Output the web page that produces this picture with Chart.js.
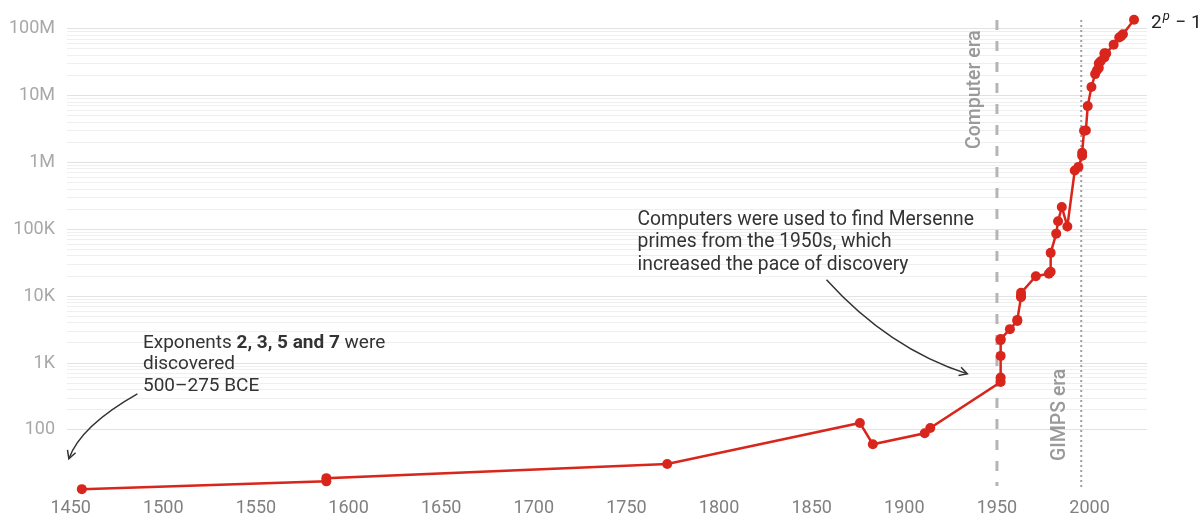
<!DOCTYPE html>
<html>
<head>
<meta charset="utf-8">
<script src="https://cdn.jsdelivr.net/npm/chart.js@4/dist/chart.umd.min.js"></script>
<style>
  html, body { margin: 0; padding: 0; background: #fff; }
  #wrap { width: 1204px; height: 514px; }
</style>
</head>
<body>
<div id="wrap"><canvas id="chart"></canvas></div>
<script>
// ── Data ───────────────────────────────────────────────────────────────────

// discovery year of each Mersenne prime exponent (in order of discovery)
const years = [
  1456, 1588, 1588, 1772, 1876, 1883, 1911, 1914,
  1952, 1952, 1952, 1952, 1952, 1957, 1961, 1961,
  1963, 1963, 1963, 1971, 1978, 1979, 1979, 1982,
  1983, 1985, 1988, 1992, 1994, 1996, 1996, 1997,
  1998, 1999, 2001, 2003, 2004, 2005, 2005, 2006,
  2008, 2008, 2009, 2013, 2016, 2017, 2018, 2024
];
const exponents = [
  13, 17, 19, 31, 127, 61, 89, 107,
  521, 607, 1279, 2203, 2281, 3217, 4253, 4423,
  9689, 9941, 11213, 19937, 21701, 23209, 44497, 86243,
  132049, 216091, 110503, 756839, 859433, 1257787, 1398269, 2976221,
  3021377, 6972593, 13466917, 20996011, 24036583, 25964951, 30402457, 32582657,
  43112609, 37156667, 42643801, 57885161, 74207281, 77232917, 82589933, 136279841
];

const xTickValues = [1450, 1500, 1550, 1600, 1650, 1700, 1750, 1800, 1850, 1900, 1950, 2000];
const yTickValues = [100, 1e3, 1e4, 1e5, 1e6, 1e7, 1e8];
const yTickLabels = ['100', '1K', '10K', '100K', '1M', '10M', '100M'];

const computerEra = 1950;
const gimpsEra = 1995.5;

const RED = '#d9261c';
const FONT = 'Roboto, "Noto Sans", sans-serif';

// ── Annotations ────────────────────────────────────────────────────────────

function arrow(ctx, x0, y0, cx, cy, x1, y1) {
  ctx.beginPath();
  ctx.moveTo(x0, y0);
  ctx.quadraticCurveTo(cx, cy, x1, y1);
  ctx.stroke();
  const a = Math.atan2(y1 - cy, x1 - cx);
  const len = 9;
  ctx.beginPath();
  ctx.moveTo(x1 - len * Math.cos(a - 0.5), y1 - len * Math.sin(a - 0.5));
  ctx.lineTo(x1, y1);
  ctx.lineTo(x1 - len * Math.cos(a + 0.5), y1 - len * Math.sin(a + 0.5));
  ctx.stroke();
}

const annotations = {
  id: 'annotations',
  beforeDatasetsDraw(chart) {
    const { ctx, chartArea, scales: { x } } = chart;
    const xc = x.getPixelForValue(computerEra);
    const xg = x.getPixelForValue(gimpsEra);
    ctx.save();
    ctx.strokeStyle = '#b5b5b5';
    ctx.lineWidth = 3;
    ctx.setLineDash([10, 11]);
    ctx.beginPath();
    ctx.moveTo(xc, chartArea.top + 3);
    ctx.lineTo(xc, chartArea.bottom - 8);
    ctx.stroke();

    ctx.strokeStyle = '#a0a0a0';
    ctx.lineWidth = 2;
    ctx.setLineDash([2, 3]);
    ctx.beginPath();
    ctx.moveTo(xg, chartArea.top + 3);
    ctx.lineTo(xg, chartArea.bottom - 5);
    ctx.stroke();
    ctx.restore();
  },
  afterDatasetsDraw(chart) {
    const { ctx, scales: { x, y } } = chart;
    const px = (yr) => x.getPixelForValue(yr);
    const py = (v) => y.getPixelForValue(v);
    ctx.save();

    // era labels
    ctx.fillStyle = '#9a9a9a';
    ctx.font = `500 19.5px ${FONT}`;
    ctx.textAlign = 'center';
    ctx.textBaseline = 'middle';
    ctx.save();
    ctx.translate(px(computerEra) - 22, py(1.23e7));
    ctx.rotate(-Math.PI / 2);
    ctx.fillText('Computer era', 0, 0);
    ctx.restore();
    ctx.save();
    ctx.translate(px(gimpsEra) - 21, py(168));
    ctx.rotate(-Math.PI / 2);
    ctx.fillText('GIMPS era', 0, 0);
    ctx.restore();

    // series label
    ctx.fillStyle = '#222';
    ctx.textAlign = 'left';
    ctx.textBaseline = 'alphabetic';
    const lx = px(2024) + 17, ly = py(1.36e8) + 8;
    ctx.font = `19px ${FONT}`;
    ctx.fillText('2', lx, ly);
    const w2 = ctx.measureText('2').width;
    ctx.font = `italic 13px ${FONT}`;
    ctx.fillText('p', lx + w2 + 1, ly - 8);
    const wp = ctx.measureText('p').width;
    ctx.font = `19px ${FONT}`;
    ctx.fillText(' \u2212 1', lx + w2 + wp + 2, ly);

    // left note
    ctx.fillStyle = '#333';
    ctx.font = `19px ${FONT}`;
    const tx = px(1489), t1 = py(1690);
    let cx = tx;
    ctx.fillText('Exponents ', cx, t1);
    cx += ctx.measureText('Exponents ').width;
    ctx.font = `bold 19px ${FONT}`;
    ctx.fillText('2, 3, 5 and 7', cx, t1);
    cx += ctx.measureText('2, 3, 5 and 7').width;
    ctx.font = `19px ${FONT}`;
    ctx.fillText(' were', cx, t1);
    ctx.fillText('discovered', tx, t1 + 21.5);
    ctx.fillText('500\u2013275 BCE', tx, t1 + 43);

    // right note
    const rx = px(1756), r1 = py(1.17e5);
    ctx.font = `19.3px ${FONT}`;
    ctx.fillText('Computers were used to find Mersenne', rx, r1);
    ctx.fillText('primes from the 1950s, which', rx, r1 + 22.5);
    ctx.fillText('increased the pace of discovery', rx, r1 + 45);

    ctx.strokeStyle = '#333';
    ctx.lineWidth = 1.5;
    arrow(ctx, px(1486), py(346), px(1455.4), py(115), px(1449), py(37));
    arrow(ctx, px(1858), py(17600), px(1891.7), py(1632), px(1934), py(689));
    ctx.restore();
  }
};

// ── Chart ──────────────────────────────────────────────────────────────────

const points = years.map((yr, i) => ({ x: yr, y: exponents[i] }));

new Chart(document.getElementById('chart'), {
  type: 'scatter',
  data: {
    datasets: [{
      data: points,
      showLine: true,
      borderColor: RED,
      backgroundColor: RED,
      borderWidth: 2.5,
      pointRadius: 5,
      pointBorderWidth: 0,
      pointBackgroundColor: RED,
      clip: false,
    }],
  },
  options: {
    responsive: true,
    maintainAspectRatio: false,
    animation: false,
    layout: { padding: { top: 17, right: 57, left: 0, bottom: 0 } },
    plugins: { legend: { display: false }, tooltip: { enabled: false } },
    scales: {
      x: {
        type: 'linear',
        min: 1448,
        max: 2031,
        afterBuildTicks: (scale) => { scale.ticks = xTickValues.map(v => ({ value: v })); },
        afterFit: (scale) => { scale.height = 20; },
        grid: { display: false, drawTicks: false },
        border: { display: false },
        ticks: {
          color: '#808080',
          font: { family: FONT, size: 18 },
          padding: 4,
          maxRotation: 0,
          autoSkip: false,
          callback: (v) => String(v),
        },
      },
      y: {
        type: 'logarithmic',
        min: 11,
        max: 1.5e8,
        afterBuildTicks: (scale) => {
          const ticks = [];
          yTickValues.forEach(d => {
            for (let m = 1; m <= 9; m++) {
              if (m * d <= scale.max) ticks.push({ value: m * d, major: m === 1 });
            }
          });
          scale.ticks = ticks;
        },
        afterFit: (scale) => {
          scale.width = 67;
          scale.paddingTop = 0;
          scale.paddingBottom = 0;
        },
        grid: {
          drawTicks: false,
          color: (c) => yTickValues.includes(c.tick && c.tick.value) ? '#e2e2e2' : '#efefef',
          lineWidth: 1,
        },
        border: { display: false },
        ticks: {
          color: '#a8a8a8',
          font: { family: FONT, size: 18 },
          padding: 12,
          autoSkip: false,
          callback: (v) => {
            const i = yTickValues.indexOf(v);
            return i >= 0 ? yTickLabels[i] : '';
          },
        },
      },
    },
  },
  plugins: [annotations],
});
</script>
</body>
</html>
